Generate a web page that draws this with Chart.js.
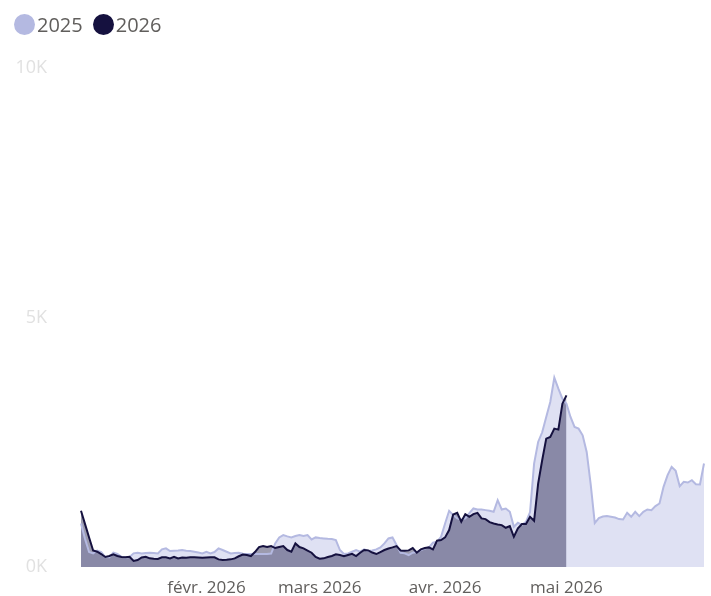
<!DOCTYPE html>
<html lang="fr">
<head>
<meta charset="utf-8">
<title>2025 vs 2026</title>
<script src="https://cdn.jsdelivr.net/npm/chart.js@4/dist/chart.umd.min.js"></script>
<style>
  body { margin: 0; background: #fff; font-family: "Open Sans", "Noto Sans", sans-serif; }
  #wrap { position: relative; width: 711px; height: 596px; }
  #chart { display: block; }
  #legend { position: absolute; left: 14px; top: 11px; display: flex; align-items: center; color: #605e5c; font-size: 20px; }
  .item { display: flex; align-items: center; margin-right: 10px; }
  .dot { width: 21px; height: 21px; border-radius: 50%; margin-right: 2px; }
</style>
</head>
<body>
<div id="wrap">
  <canvas id="chart" width="711" height="596"></canvas>
  <div id="legend"></div>
</div>
<script>
// Valeurs journalières (1er janv. -> 4 juin)
const startDate = new Date(2026, 0, 1);
const dayCount = 155;
const monthLabels = ['janv. 2026', 'févr. 2026', 'mars 2026', 'avr. 2026', 'mai 2026', 'juin 2026'];
const shownMonths = [1, 2, 3, 4];
const yTicks = [0, 5000, 10000];

const values2025 = [
    873, 560, 300, 273, 330, 300, 200, 195, 286, 260,
    206, 193, 200, 273, 286, 273, 280, 286, 280, 273,
    353, 373, 320, 326, 330, 340, 326, 320, 306, 290,
    273, 306, 273, 300, 373, 340, 306, 273, 280, 286,
    265, 260, 260, 260, 262, 260, 262, 270, 473, 593,
    640, 613, 593, 620, 640, 620, 640, 553, 593, 580,
    573, 565, 560, 540, 340, 260, 273, 306, 340, 306,
    353, 320, 330, 353, 393, 473, 573, 593, 440, 286,
    273, 240, 286, 300, 340, 370, 393, 486, 506, 606,
    873, 1126, 1040, 973, 953, 973, 1080, 1173, 1153, 1153,
    1140, 1126, 1106, 1340, 1153, 1173, 1106, 806, 886, 846,
    906, 1100, 2073, 2506, 2700, 3006, 3306, 3793, 3573, 3373,
    3273, 3006, 2806, 2773, 2640, 2306, 1650, 880, 980, 1010,
    1020, 1006, 993, 960, 953, 1086, 1006, 1106, 1020, 1106,
    1153, 1140, 1220, 1273, 1606, 1840, 2006, 1926, 1620, 1706,
    1693, 1740, 1660, 1653, 2073
];

const values2026 = [
    1126, 860, 590, 330, 306, 260, 200, 220, 254, 220,
    200, 195, 206, 120, 140, 190, 206, 173, 165, 160,
    193, 193, 173, 206, 173, 190, 186, 193, 193, 190,
    186, 190, 193, 193, 153, 140, 145, 153, 173, 215,
    250, 240, 220, 300, 400, 420, 400, 420, 380, 400,
    420, 340, 306, 473, 400, 373, 330, 286, 200, 166,
    173, 200, 220, 253, 240, 215, 240, 265, 220, 286,
    340, 333, 290, 260, 300, 340, 370, 393, 420, 330,
    326, 333, 380, 286, 353, 380, 393, 353, 526, 540,
    593, 740, 1053, 1086, 906, 1060, 1006, 1060, 1086, 973,
    960, 900, 873, 853, 840, 786, 820, 606, 773, 860,
    860, 1006, 926, 1673, 2140, 2573, 2606, 2773, 2753, 3273,
    3440
];

const series = [
    { label: '2025', data: values2025, line: '#b4b9e1', fill: '#dfe1f3', dot: '#b4b9e1', order: 1 },
    { label: '2026', data: values2026, line: '#15113f', fill: 'rgba(20,16,63,0.42)', dot: '#15113f', order: 0 }
];

const days = [];
for (let i = 0; i < dayCount; i++) {
    days.push(new Date(startDate.getFullYear(), startDate.getMonth(), startDate.getDate() + i));
}

// Légende HTML
const legend = document.getElementById('legend');
series.forEach(s => {
    const item = document.createElement('div');
    item.className = 'item';
    item.innerHTML = `<span class="dot" style="background:${s.dot}"></span><span>${s.label}</span>`;
    legend.appendChild(item);
});

const ctx = document.getElementById('chart').getContext('2d');
new Chart(ctx, {
    type: 'line',
    data: {
        labels: days.map(d => d.toISOString().slice(0, 10)),
        datasets: series.map(s => ({
            label: s.label,
            data: s.data,
            borderColor: s.line,
            backgroundColor: s.fill,
            borderWidth: 2,
            fill: 'origin',
            pointRadius: 0,
            tension: 0,
            order: s.order
        }))
    },
    options: {
        responsive: false,
        animation: false,
        layout: { padding: { top: 68, right: 7, bottom: 0, left: 0 } },
        plugins: {
            legend: { display: false },
            tooltip: { enabled: false },
            filler: { drawTime: 'beforeDatasetsDraw' }
        },
        scales: {
            x: {
                type: 'category',
                offset: false,
                grid: { display: false, drawTicks: false },
                border: { display: false },
                ticks: {
                    autoSkip: false,
                    maxRotation: 0,
                    padding: 11,
                    color: '#605e5c',
                    font: { family: '"Open Sans", "Noto Sans", sans-serif', size: 17 },
                    callback: function(value, index) {
                        const d = days[index];
                        if (d.getDate() === 1 && shownMonths.includes(d.getMonth())) {
                            return monthLabels[d.getMonth()];
                        }
                        return null;
                    }
                },
                afterFit: function(scale) { scale.height = 29; }
            },
            y: {
                min: 0,
                max: 10000,
                afterBuildTicks: function(scale) {
                    scale.ticks = yTicks.map(v => ({ value: v }));
                },
                grid: { display: false, drawTicks: false },
                border: { display: false },
                ticks: {
                    padding: 34,
                    color: '#e1e1e1',
                    font: { family: '"Open Sans", "Noto Sans", sans-serif', size: 18 },
                    callback: v => (v / 1000) + 'K'
                },
                afterFit: function(scale) {
                    scale.width = 81;
                    // le padding des libellés ne doit pas réduire la zone du graphique
                    scale.paddingTop = 0;
                    scale.paddingBottom = 0;
                }
            }
        }
    }
});
</script>
</body>
</html>
